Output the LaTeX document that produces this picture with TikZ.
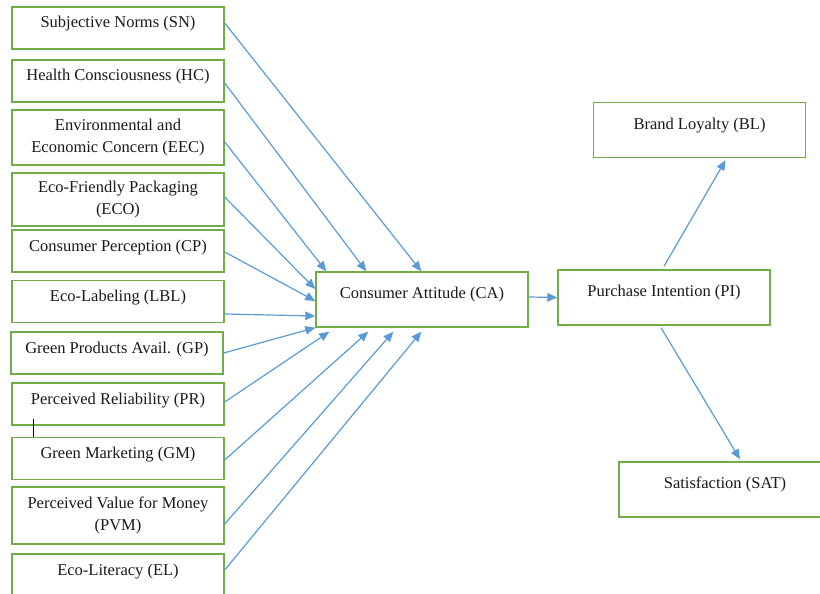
\documentclass[tikz,border=0pt]{standalone}
\usepackage{fontspec}
\setmainfont{Liberation Serif}
\usetikzlibrary{arrows.meta}

\definecolor{hijau}{HTML}{70AD47}
\definecolor{biru}{HTML}{5B9BD5}

\tikzset{
  kotak/.style={draw=hijau, line width=1.4pt, minimum width=212pt, inner xsep=0pt,
    inner ysep=0pt, align=center, text=black!90,
    font=\fontsize{16.5}{21.5}\selectfont},
  satu/.style={kotak, text height=21pt, text depth=21pt},
  dua/.style={kotak},
  besar/.style={kotak, text height=26.5pt, text depth=28.5pt},
  panah/.style={draw=biru, line width=1.2pt, -{Triangle[length=10pt,width=8.5pt]}}
}

\begin{document}
\begin{tikzpicture}[x=1pt,y=-1pt]
      \useasboundingbox (0,0) rectangle (820,594);
      \clip (0,0) rectangle (820,594);

      % Kotak kiri
      \node[satu] (SN) at (118,28) {Subjective Norms (SN)};
      \node[satu] (HC) at (118,81) {Health Consciousness (HC)};
      \node[dua, minimum height=55pt] (EEC) at (118,137.5) {Environmental and\\Economic Concern (EEC)};
      \node[dua, minimum height=53pt] (ECO) at (118,199.5) {Eco-Friendly Packaging\\(ECO)};
      \node[satu] (CP) at (118,251) {Consumer Perception (CP)};
      \node[satu] (LBL) at (118,301.5) {Eco-Labeling (LBL)};
      \node[satu] (GP) at (117,353) {Green Products Avail. (GP)};
      \node[satu] (PR) at (118,404) {Perceived Reliability (PR)};
      \node[satu] (GM) at (118,458.5) {Green Marketing (GM)};
      \node[dua, minimum height=57pt] (PVM) at (118,515.5) {Perceived Value for Money\\(PVM)};
      \node[satu] (EL) at (118,575) {Eco-Literacy (EL)};

      % Kotak tengah dan kanan
      \node[besar] (CA) at (422,299.5) {Consumer Attitude (CA)};
      \node[besar] (PI) at (664,297.5) {Purchase Intention (PI)};
      \node[besar] (BL) at (699.5,130) {Brand Loyalty (BL)};
      \node[besar] (SAT) at (725,489.5) {Satisfaction (SAT)};

      % Panah ke CA
      \foreach \n/\dy/\ta/\ex/\ey in {SN/5/north west/106/0, HC/-2/north west/51/0,
          EEC/-4.5/north west/11/0, ECO/2.5/west/0/10.5, CP/-1/west/0/-1.5,
          LBL/-12.5/west/0/-16.5, GP/0/south west/0/0, PR/2/south west/14/-4,
          GM/-1.5/south west/53/-4, PVM/-8.5/south west/78/-4, EL/5/south west/106/-4}
        {
          \draw[panah] ([yshift=\dy pt]\n.east) -- ([xshift=\ex pt,yshift=\ey pt]CA.\ta);
        }

      % Panah kanan
      \draw[panah] ([yshift=2.5pt]CA.east) -- (PI.west);
      \draw[panah] ([yshift=3pt]PI.north) -- ([xshift=26pt,yshift=-2pt]BL.south);
      \draw[panah] ([xshift=-3pt,yshift=-2pt]PI.south) -- ([xshift=15pt,yshift=2pt]SAT.north);

      % Garis kecil
      \draw[line width=0.8pt] ([xshift=22pt]GM.north west) -- ++(0,-18);
    \end{tikzpicture}
\end{document}
